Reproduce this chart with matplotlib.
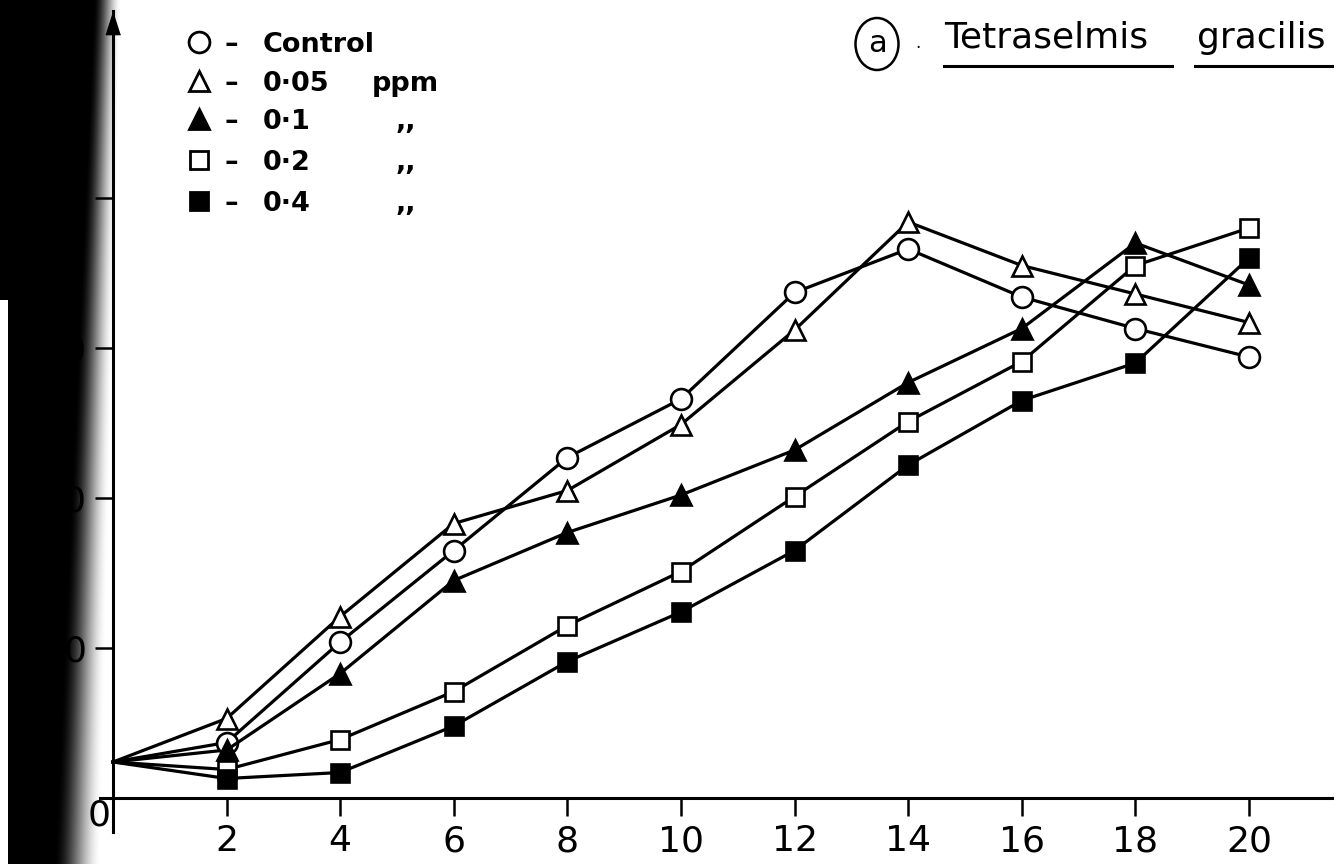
import numpy as np
import matplotlib
matplotlib.use('Agg')
import matplotlib.pyplot as plt
from matplotlib.patches import Ellipse
from matplotlib.lines import Line2D

W, H = 1342, 864

# data (y in tick units, ticks every 10)
days = [0, 2, 4, 6, 8, 10, 12, 14, 16, 18, 20]
control = [2.4, 3.7, 10.4, 16.5, 22.7, 26.6, 33.7, 36.6, 33.4, 31.3, 29.4]
ppm_005 = [2.4, 5.3, 12.1, 18.3, 20.5, 24.9, 31.2, 38.4, 35.5, 33.6, 31.7]
ppm_01 = [2.4, 3.2, 8.3, 14.5, 17.7, 20.2, 23.2, 27.7, 31.3, 37.0, 34.2]
ppm_02 = [2.4, 1.9, 3.9, 7.1, 11.5, 15.1, 20.1, 25.1, 29.1, 35.5, 38.0]
ppm_04 = [2.4, 1.3, 1.7, 4.8, 9.1, 12.4, 16.5, 22.2, 26.5, 29.0, 36.0]

xticks = [2, 4, 6, 8, 10, 12, 14, 16, 18, 20]
yticks = [10, 20, 30, 40]
labels = ["Control", "0·05", "0·1", "0·2", "0·4"]

series = [
    (control, 'o', 'white', 15),
    (ppm_005, '^', 'white', 14),
    (ppm_01, '^', 'black', 14),
    (ppm_02, 's', 'white', 13),
    (ppm_04, 's', 'black', 13),
]


def fx(px):
    return px / W


def fy(py):
    return 1 - py / H


fig = plt.figure(figsize=(W / 100, H / 100), dpi=100)

# dark scanner shadow along the left edge
band_w = 130
band = np.ones((H, band_w))
cols = np.arange(band_w)
for r in range(H):
    edge = 93 - 40 * r / H
    width = 28 + 20 * r / H
    t = np.clip((cols - edge) / width, 0, 1)
    band[r] = t * t * (3 - 2 * t)
    if r >= 300:
        band[r, :8] = 1
fig.figimage(band, xo=0, yo=0, cmap='gray', vmin=0, vmax=1, origin='upper', zorder=-1)

# axes placed so that data units map onto the scanned pixel grid
X0, XS, Y0, YS = 113, 56.8, 798, 15.0
xlo, xhi, ylo, yhi = -0.23, 21.46, -2.27, 52.5
ax = fig.add_axes([(X0 + xlo * XS) / W, 1 - (Y0 - ylo * YS) / H,
                   (xhi - xlo) * XS / W, (yhi - ylo) * YS / H])
ax.set_xlim(xlo, xhi)
ax.set_ylim(ylo, yhi)
ax.set_facecolor('none')
for s in ['top', 'right']:
    ax.spines[s].set_visible(False)
for s in ['left', 'bottom']:
    ax.spines[s].set_position(('data', 0))
    ax.spines[s].set_linewidth(2.2)

ax.set_xticks(xticks)
ax.set_xticklabels([str(v) for v in xticks])
ax.set_yticks(yticks)
ax.set_yticklabels([str(v) for v in yticks])
ax.tick_params(axis='both', direction='out', length=13, width=1.8,
               labelsize=26, pad=6)

# arrow head on the y axis
ax.plot(0, yhi - 0.8, marker=[(0, 1), (-0.64, -1), (0.64, -1)], ms=16,
        color='black', clip_on=False)
ax.annotate('0', xy=(0, 0), xytext=(-14, -18), textcoords='offset pixels',
            ha='center', va='center', fontsize=26)

for vals, mk, fc, ms in series:
    ax.plot(days[1:], vals[1:], color='black', lw=2.3, marker=mk, ms=ms,
            mfc=fc, mec='black', mew=1.9, zorder=3)
    ax.plot(days[:2], vals[:2], color='black', lw=2.3, zorder=2)

# hand-lettered key
rows = [42, 81, 119, 160, 201]
for (vals, mk, fc, ms), lab, ry in zip(series, labels, rows):
    fig.add_artist(Line2D([fx(199)], [fy(ry)], marker=mk, ms=ms, mfc=fc,
                          mec='black', mew=2.0, color='black',
                          transform=fig.transFigure))
    fig.text(fx(224), fy(ry + 10), '–', fontsize=19.5, fontweight='bold', va='baseline')
    fig.text(fx(263), fy(ry + 10), lab, fontsize=19.5, fontweight='bold', va='baseline')
fig.text(fx(372), fy(rows[1] + 10), 'ppm', fontsize=19.5, fontweight='bold', va='baseline')
for ry in rows[2:]:
    fig.text(fx(396), fy(ry + 10), ',,', fontsize=19.5, fontweight='bold', va='baseline')

# panel title
fig.add_artist(Ellipse((fx(877), fy(44)), 43 / W, 52 / H, fill=False, lw=1.8,
                       color='black', transform=fig.transFigure))
fig.text(fx(877), fy(44), 'a', fontsize=22, ha='center', va='center')
fig.text(fx(915), fy(48), '.', fontsize=12, va='baseline')
fig.text(fx(944), fy(48), 'Tetraselmis', fontsize=26, va='baseline')
fig.text(fx(1197), fy(48), 'gracilis', fontsize=26, va='baseline')
fig.add_artist(Line2D([fx(944), fx(1172)], [fy(66), fy(66)], lw=2.2,
                      color='black', transform=fig.transFigure))
fig.add_artist(Line2D([fx(1195), fx(1332)], [fy(66), fy(66)], lw=2.2,
                      color='black', transform=fig.transFigure))

fig.savefig('out.png', dpi=100, facecolor='white')
